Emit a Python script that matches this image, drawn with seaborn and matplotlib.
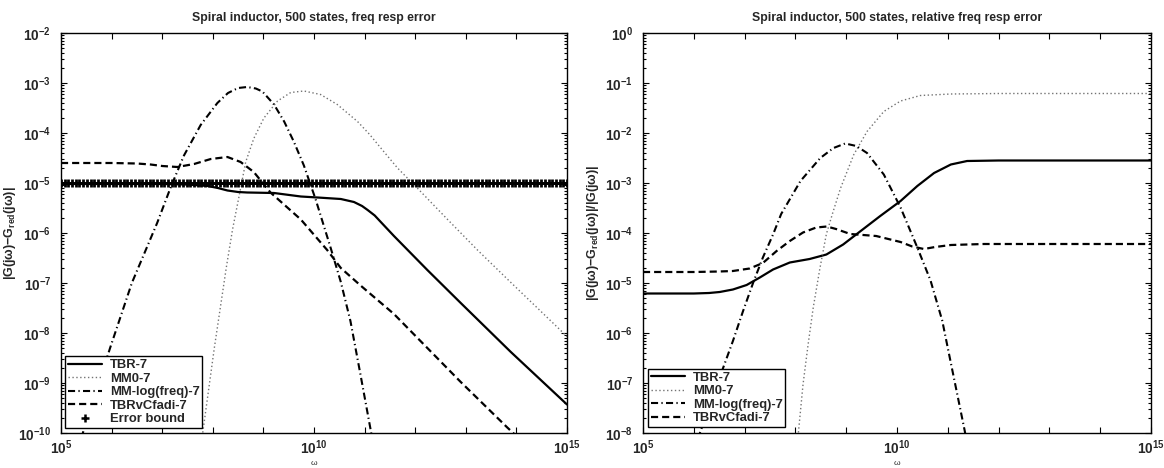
import numpy as np
import pandas as pd
import matplotlib
matplotlib.use("Agg")
import matplotlib.pyplot as plt
import matplotlib.ticker as mticker
from matplotlib.lines import Line2D
import seaborn as sns

# ---------------- data (log10 omega, log10 error) ----------------
# left panel: absolute frequency response error
tbr_abs_w = [5.0, 6.0, 7.0, 7.5, 7.9, 8.1, 8.29, 8.5, 8.68, 9.21, 9.74, 10.07, 10.53, 10.79,
             10.95, 11.06, 11.2, 11.32, 11.58, 12.24, 12.90, 13.89, 15.0]
tbr_abs_e = [-5.02, -5.02, -5.02, -5.03, -5.06, -5.10, -5.15, -5.18, -5.19, -5.20, -5.27, -5.29,
             -5.32, -5.38, -5.46, -5.54, -5.65, -5.78, -6.06, -6.74, -7.40, -8.38, -9.43]

mm0_abs_w = [7.76, 8.03, 8.27, 8.39, 8.52, 8.65, 8.81, 9.01, 9.28, 9.54, 9.80, 10.13, 10.46,
             10.86, 11.10, 11.32, 11.65, 12.04, 12.64, 13.23, 13.85, 15.0]
mm0_abs_e = [-10.3, -8.30, -6.67, -5.93, -5.26, -4.58, -4.11, -3.70, -3.36, -3.19, -3.16, -3.23,
             -3.43, -3.77, -4.03, -4.30, -4.70, -5.10, -5.73, -6.34, -6.95, -8.07]

mmlog_abs_w = [5.40, 5.97, 6.40, 6.90, 7.17, 7.43, 7.76, 8.09, 8.30, 8.50, 8.68, 8.85, 8.98,
               9.21, 9.41, 9.60, 9.80, 10.03, 10.33, 10.53, 10.72, 10.92, 11.14]
mmlog_abs_e = [-10.1, -8.30, -7.00, -5.80, -5.08, -4.45, -3.84, -3.40, -3.20, -3.10, -3.08,
               -3.11, -3.17, -3.43, -3.77, -4.17, -4.65, -5.32, -6.30, -6.98, -7.76, -8.84,
               -10.05]

tbrv_abs_w = [5.0, 6.0, 6.5, 6.77, 7.0, 7.30, 7.63, 7.96, 8.29, 8.55, 8.81, 9.14, 9.74, 10.26,
              10.53, 10.92, 11.58, 12.24, 12.90, 13.82, 14.0]
tbrv_abs_e = [-4.60, -4.60, -4.61, -4.63, -4.66, -4.68, -4.62, -4.52, -4.48, -4.58, -4.78, -5.19,
              -5.73, -6.34, -6.70, -7.05, -7.62, -8.30, -8.98, -9.89, -10.06]

bound_level = 1e-5
bound_w = np.linspace(5.0, 15.0, 138)   # sampling grid of the error-bound markers

# right panel: relative frequency response error
tbr_rel_w = [5.0, 6.0, 6.3, 6.51, 6.77, 7.04, 7.30, 7.56, 7.89, 8.28, 8.61, 8.94, 9.26, 9.67,
             10.07, 10.40, 10.73, 11.06, 11.38, 12.0, 15.0]
tbr_rel_e = [-5.21, -5.21, -5.20, -5.18, -5.13, -5.04, -4.89, -4.73, -4.59, -4.52, -4.43, -4.23,
             -3.98, -3.66, -3.36, -3.06, -2.80, -2.63, -2.56, -2.55, -2.55]

mm0_rel_w = [8.03, 8.15, 8.25, 8.35, 8.48, 8.61, 8.74, 8.89, 9.15, 9.41, 9.74, 10.07, 10.46,
             11.06, 12.0, 15.0]
mm0_rel_e = [-8.3, -7.03, -6.23, -5.50, -4.72, -4.02, -3.58, -3.10, -2.43, -1.97, -1.57, -1.36,
             -1.25, -1.22, -1.21, -1.21]

mmlog_rel_w = [6.05, 6.58, 6.77, 6.97, 7.17, 7.36, 7.56, 7.72, 8.10, 8.49, 8.75, 8.98, 9.20,
               9.41, 9.74, 10.07, 10.40, 10.66, 10.89, 11.03, 11.33, 11.36]
mmlog_rel_e = [-8.2, -6.69, -6.16, -5.56, -4.99, -4.49, -4.03, -3.62, -2.96, -2.50, -2.30,
               -2.21, -2.26, -2.40, -2.83, -3.49, -4.29, -4.95, -5.75, -6.45, -7.94, -8.1]

tbrv_rel_w = [5.0, 6.0, 6.5, 6.77, 7.10, 7.36, 7.63, 7.89, 8.15, 8.41, 8.62, 8.80, 9.08, 9.59,
              10.07, 10.30, 10.53, 10.75, 11.06, 11.71, 15.0]
tbrv_rel_e = [-4.78, -4.78, -4.77, -4.76, -4.71, -4.60, -4.36, -4.16, -3.99, -3.89, -3.87, -3.92,
              -4.02, -4.06, -4.18, -4.27, -4.32, -4.28, -4.24, -4.22, -4.22]

labels = ["TBR-7", "MM0-7", "MM-log(freq)-7", "TBRvCfadi-7", "Error bound"]
titles = ["Spiral inductor, 500 states, freq resp error",
          "Spiral inductor, 500 states, relative freq resp error"]

# ---------------- styling ----------------
sns.set_theme(style="ticks")
plt.rcParams["font.family"] = ["Liberation Sans", "DejaVu Sans"]
plt.rcParams["font.weight"] = "bold"
plt.rcParams["mathtext.fontset"] = "custom"
plt.rcParams["mathtext.rm"] = "Liberation Sans"
plt.rcParams["mathtext.bf"] = "Liberation Sans:bold"
plt.rcParams["mathtext.it"] = "Liberation Sans:italic"
plt.rcParams["mathtext.default"] = "bf"

styles = {
    "TBR-7": dict(color="black", lw=1.6, linestyle="-"),
    "MM0-7": dict(color="0.45", lw=1.0, linestyle=(0, (1.0, 1.8))),
    "MM-log(freq)-7": dict(color="black", lw=1.5, linestyle=(0, (3.4, 1.6, 0.6, 1.6))),
    "TBRvCfadi-7": dict(color="black", lw=1.6, linestyle=(0, (3.2, 1.8))),
}

W, H = 1164, 468
fig = plt.figure(figsize=(W / 100, H / 100), dpi=100)
ax1 = fig.add_axes([61 / W, 1 - 433 / H, 506 / W, 400 / H])
ax2 = fig.add_axes([643 / W, 1 - 433 / H, 508 / W, 400 / H])


def draw(ax, series):
    for name, w, e in series:
        df = pd.DataFrame({"w": 10.0 ** np.asarray(w), "e": 10.0 ** np.asarray(e)})
        sns.lineplot(data=df, x="w", y="e", ax=ax, sort=False, estimator=None,
                     legend=False, **styles[name])


draw(ax1, [("TBR-7", tbr_abs_w, tbr_abs_e), ("MM0-7", mm0_abs_w, mm0_abs_e),
           ("MM-log(freq)-7", mmlog_abs_w, mmlog_abs_e),
           ("TBRvCfadi-7", tbrv_abs_w, tbrv_abs_e)])
bdf = pd.DataFrame({"w": 10.0 ** bound_w, "e": np.full(len(bound_w), bound_level)})
sns.lineplot(data=bdf, x="w", y="e", ax=ax1, sort=False, estimator=None, legend=False,
             color="black", linestyle="", marker="+", markersize=5.6,
             markeredgewidth=2.0, markeredgecolor="black", zorder=3)

draw(ax2, [("TBR-7", tbr_rel_w, tbr_rel_e), ("MM0-7", mm0_rel_w, mm0_rel_e),
           ("MM-log(freq)-7", mmlog_rel_w, mmlog_rel_e),
           ("TBRvCfadi-7", tbrv_rel_w, tbrv_rel_e)])


def fmt_x(v, p):
    k = int(round(np.log10(v)))
    return r"$10^{%d}$" % k if k in (5, 10, 15) else ""


def fmt_y(v, p):
    return r"$10^{%d}$" % int(round(np.log10(v)))


for ax, ylim, ttl in [(ax1, (1e-10, 1e-2), titles[0]), (ax2, (1e-8, 1e0), titles[1])]:
    ax.set_xscale("log")
    ax.set_yscale("log")
    ax.set_xlim(1e5, 1e15)
    ax.set_ylim(*ylim)
    ax.xaxis.set_major_locator(mticker.FixedLocator([10.0 ** k for k in range(5, 16)]))
    ax.xaxis.set_minor_locator(mticker.NullLocator())
    ax.xaxis.set_major_formatter(mticker.FuncFormatter(fmt_x))
    lo, hi = int(round(np.log10(ylim[0]))), int(round(np.log10(ylim[1])))
    ax.yaxis.set_major_locator(mticker.FixedLocator([10.0 ** k for k in range(lo, hi + 1)]))
    ax.yaxis.set_minor_locator(mticker.LogLocator(base=10, subs=np.arange(2, 10), numticks=50))
    ax.yaxis.set_major_formatter(mticker.FuncFormatter(fmt_y))
    ax.yaxis.set_minor_formatter(mticker.NullFormatter())
    ax.tick_params(which="both", direction="in", top=True, right=True, color="black",
                   labelsize=9.8, width=0.8)
    ax.tick_params(which="major", length=4)
    ax.tick_params(which="minor", length=2)
    ax.tick_params(axis="y", pad=7)
    ax.tick_params(axis="x", pad=4)
    for s in ax.spines.values():
        s.set_color("black")
        s.set_linewidth(1.0)
    ax.set_title(ttl, fontsize=8.8, fontweight="bold", pad=9)
    ax.set_xlabel("ω", fontsize=6, fontweight="normal", labelpad=2)
    ax.grid(False)

ax1.set_ylabel(r"$|G(j\omega){-}G_{red}(j\omega)|$", fontsize=9)
ax1.yaxis.set_label_coords(-0.085, 0.5)
ax2.set_ylabel(r"$|G(j\omega){-}G_{red}(j\omega)|/|G(j\omega)|$", fontsize=9)
ax2.yaxis.set_label_coords(-0.082, 0.5)


def handles(n):
    hs = [Line2D([], [], **styles[name]) for name in labels[:4]]
    if n == 5:
        hs.append(Line2D([], [], color="black", linestyle="", marker="+",
                         markersize=5.5, markeredgewidth=1.8))
    return hs


for ax, n, anchor in [(ax1, 5, (4 / 506, 5 / 400)), (ax2, 4, (5 / 508, 6 / 400))]:
    leg = ax.legend(handles(n), labels[:n], loc="lower left", bbox_to_anchor=anchor,
                    borderaxespad=0, frameon=True, fancybox=False,
                    framealpha=1, edgecolor="black", handlelength=2.6, handletextpad=0.6,
                    labelspacing=0.1, borderpad=0.22, prop={"weight": "bold", "size": 9.4})
    leg.get_frame().set_linewidth(1.0)

fig.savefig("out.png", dpi=100, facecolor="white")
